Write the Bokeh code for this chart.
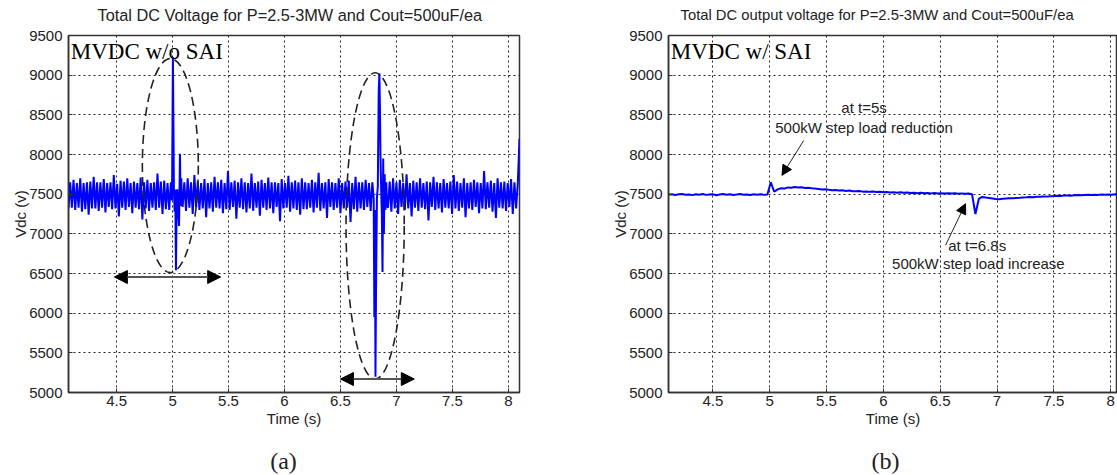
import numpy as np
from bokeh.plotting import figure
from bokeh.layouts import row, column
from bokeh.models import FixedTicker, Arrow, NormalHead, Label, Range1d
from bokeh.core.properties import value
from bokeh.embed import file_html
from bokeh.resources import INLINE

SANS = "Liberation Sans"
SERIF = "Liberation Serif"
INK = "#222222"

# ---- axes ---------------------------------------------------------------
y_ticks = [5000, 5500, 6000, 6500, 7000, 7500, 8000, 8500, 9000, 9500]
x_ticks = [4.5, 5, 5.5, 6, 6.5, 7, 7.5, 8]
x_tick_labels = ["4.5", "5", "5.5", "6", "6.5", "7", "7.5", "8"]

# ---- (a) MVDC without SAI: noisy DC bus voltage -------------------------
# steady-state ripple, sampled evenly between the given start/end times
a_pre_span = (4.07, 4.985)
vdc_a_pre = [
    7320, 7650, 7330, 7680, 7300, 7640, 7330, 7700, 7280, 7640,
    7310, 7650, 7240, 7660, 7320, 7720, 7320, 7650, 7290, 7650,
    7330, 7690, 7270, 7640, 7340, 7650, 7310, 7740, 7320, 7630,
    7220, 7670, 7330, 7660, 7300, 7700, 7340, 7640, 7260, 7660,
    7330, 7640, 7310, 7710, 7180, 7650, 7320, 7680, 7290, 7640,
    7330, 7650, 7300, 7760, 7330, 7660, 7250, 7670, 7310, 7640,
    7300, 7650,
]
# load step at t = 5 s
t_a_step1 = [4.995, 5.003, 5.007, 5.012, 5.018, 5.024, 5.030, 5.036, 5.042,
             5.050, 5.058, 5.066, 5.072, 5.078, 5.084]
vdc_a_step1 = [7420, 9230, 8500, 7560, 7280, 7560, 6540, 7300, 7560,
               7280, 7100, 8010, 7350, 7700, 7380]
a_mid_span = (5.09, 6.785)
vdc_a_mid = [
    7340, 7650, 7290, 7700, 7330, 7650, 7250, 7740, 7330, 7660,
    7300, 7640, 7320, 7690, 7210, 7640, 7320, 7650, 7280, 7720,
    7330, 7650, 7320, 7680, 7260, 7640, 7310, 7790, 7300, 7650,
    7340, 7670, 7190, 7650, 7330, 7700, 7310, 7650, 7270, 7640,
    7320, 7760, 7290, 7640, 7330, 7660, 7230, 7680, 7330, 7640,
    7300, 7710, 7320, 7650, 7260, 7650, 7340, 7640, 7160, 7690,
    7320, 7640, 7330, 7730, 7280, 7650, 7320, 7670, 7300, 7650,
    7240, 7700, 7310, 7650, 7310, 7640, 7330, 7680, 7270, 7650,
    7330, 7770, 7290, 7640, 7320, 7650, 7200, 7690, 7340, 7650,
    7300, 7640, 7330, 7700, 7260, 7640, 7320, 7660, 7330, 7670,
    7150, 7640, 7310, 7720, 7280, 7650, 7320, 7650, 7300, 7680,
    7340, 7640, 7290, 7650,
]
# load step at t = 6.8 s
t_a_step2 = [6.797, 6.803, 6.808, 6.813, 6.818, 6.826, 6.834, 6.842, 6.848, 6.853,
             6.858, 6.864, 6.870, 6.876, 6.882, 6.888, 6.895, 6.902, 6.910, 6.916]
vdc_a_step2 = [7450, 5950, 7300, 5200, 6300, 7450, 7600, 8800, 9020, 8600,
               7960, 7550, 7250, 6520, 7950, 7000, 7750, 7300, 7650, 7350]
a_post_span = (6.925, 8.1)
vdc_a_post = [
    7330, 7660, 7280, 7700, 7320, 7650, 7250, 7680, 7340, 7640,
    7300, 7750, 7320, 7640, 7220, 7670, 7330, 7650, 7290, 7700,
    7330, 7640, 7310, 7660, 7170, 7650, 7340, 7720, 7300, 7650,
    7320, 7640, 7270, 7690, 7330, 7640, 7320, 7660, 7250, 7740,
    7320, 7660, 7290, 7640, 7330, 7700, 7210, 7640, 7320, 7650,
    7300, 7680, 7340, 7650, 7260, 7640, 7320, 7790, 7310, 7650,
    7330, 7670, 7280, 7640, 7200, 7700, 7330, 7650, 7320, 7660,
    7290, 7640, 7340, 7690, 7250, 7650, 7320, 7640, 8200,
]

# ---- (b) MVDC with SAI: regulated DC output voltage ---------------------
b_span = (4.11, 8.07)
vdc_b = [
    7495, 7500, 7490, 7498, 7503, 7492, 7497, 7488, 7500, 7494,
    7502, 7491, 7496, 7499, 7487, 7495, 7501, 7493, 7498, 7490,
    7496, 7503, 7492, 7497, 7489, 7499, 7494, 7500, 7491, 7496,
    7650, 7530, 7560, 7575, 7570, 7585, 7580, 7590, 7583, 7587,
    7578, 7582, 7575, 7570, 7566, 7560, 7562, 7555, 7550, 7553,
    7546, 7549, 7541, 7545, 7538, 7536, 7540, 7532, 7535, 7529,
    7533, 7526, 7530, 7524, 7528, 7521, 7525, 7519, 7523, 7517,
    7521, 7515, 7519, 7513, 7518, 7512, 7516, 7510, 7515, 7509,
    7513, 7508, 7512, 7507, 7511, 7506, 7510, 7505, 7508, 7500,
    7250, 7440, 7465, 7458, 7452, 7446, 7440, 7437, 7441, 7444,
    7447, 7450, 7453, 7455, 7458, 7460, 7463, 7461, 7466, 7468,
    7471, 7469, 7474, 7476, 7479, 7477, 7482, 7484, 7481, 7486,
    7488, 7485, 7490, 7492, 7489, 7494, 7491, 7496, 7493, 7497,
    7494, 7498, 7495,
]

# ---- annotation anchors (data units) ------------------------------------
ell1 = dict(x=4.98, y=7860, w=0.50, h=2700)
ell2 = dict(x=6.81, y=7100, w=0.52, h=3860)
span1 = dict(x0=4.48, x1=5.43, y=6456)
span2 = dict(x0=6.50, x1=7.16, y=5170)
note1 = dict(tail=(5.30, 8178), tip=(5.108, 7737), line1=(5.83, 8590), line2=(5.83, 8345))
note2 = dict(tail=(6.547, 6855), tip=(6.723, 7380), line1=(6.826, 6855), line2=(6.836, 6625))

# ---- heading strip above and tag strip below (pixel units of each strip) --
HEAD_H, MAIN_H, TAG_H = 28, 420, 27
heading_a = "Total DC Voltage for P=2.5-3MW and Cout=500uF/ea"
heading_b = "Total DC output voltage for P=2.5-3MW and Cout=500uF/ea"


def strip(width, height, text, x, y, font, size, align):
    s = figure(width=width, height=height, output_backend="svg", toolbar_location=None,
               x_range=Range1d(0, width), y_range=Range1d(0, height),
               x_axis_location=None, y_axis_location=None,
               min_border_left=0, min_border_right=0, min_border_top=0, min_border_bottom=0)
    s.outline_line_color = None
    s.grid.visible = False
    s.text(x=[x], y=[y], text=[text], text_font=value(font),
           text_font_size=size, text_color=INK, text_align=align,
           text_baseline="middle")
    return s


def make_fig(width, left, right, xr):
    p = figure(width=width, height=MAIN_H, output_backend="svg", toolbar_location=None,
               x_range=Range1d(*xr), y_range=Range1d(5000, 9500),
               min_border_left=left, min_border_right=right,
               min_border_top=7, min_border_bottom=56)
    p.background_fill_color = "white"
    p.border_fill_color = "white"
    p.outline_line_color = "#333333"
    p.outline_line_width = 1.5

    p.xaxis.ticker = FixedTicker(ticks=x_ticks)
    p.xaxis.major_label_overrides = dict(zip(x_ticks, x_tick_labels))
    p.yaxis.ticker = FixedTicker(ticks=y_ticks)
    p.xgrid.ticker = FixedTicker(ticks=x_ticks)
    p.ygrid.ticker = FixedTicker(ticks=y_ticks)
    for g in (p.xgrid, p.ygrid):
        g.grid_line_color = INK
        g.grid_line_dash = "2 3"
        g.grid_line_width = 1
    for ax in (p.xaxis, p.yaxis):
        ax.axis_line_color = "#333333"
        ax.axis_line_width = 1.5
        ax.major_tick_in = 4
        ax.major_tick_out = 0
        ax.minor_tick_line_color = None
        ax.major_tick_line_color = "#333333"
        ax.major_label_text_font = SANS
        ax.major_label_text_font_size = "15px"
        ax.major_label_text_color = INK
        ax.axis_label_text_font = SANS
        ax.axis_label_text_font_size = "15px"
        ax.axis_label_text_font_style = "normal"
        ax.axis_label_text_color = INK
    p.xaxis.axis_label = "Time (s)"
    p.xaxis.major_label_standoff = 3
    p.xaxis.axis_label_standoff = 1
    p.yaxis.axis_label = "Vdc (v)"
    p.yaxis.major_label_standoff = 6
    p.yaxis.axis_label_standoff = -3
    return p


# ---------------- panel (a) ----------------
pa = make_fig(560, 68, 41, (4.07, 8.1))

t_a = np.concatenate([
    np.linspace(*a_pre_span, len(vdc_a_pre)), t_a_step1,
    np.linspace(*a_mid_span, len(vdc_a_mid)), t_a_step2,
    np.linspace(*a_post_span, len(vdc_a_post)),
])
v_a = np.concatenate([vdc_a_pre, vdc_a_step1, vdc_a_mid, vdc_a_step2, vdc_a_post])
pa.line(t_a, v_a, line_color="#0000ff", line_width=2)

for e in (ell1, ell2):
    pa.ellipse(x=[e["x"]], y=[e["y"]], width=[e["w"]], height=[e["h"]],
               fill_color=None, line_color=INK, line_width=1.6, line_dash="9 5")
for s in (span1, span2):
    pa.add_layout(Arrow(
        start=NormalHead(size=13, fill_color="black", line_color="black"),
        end=NormalHead(size=13, fill_color="black", line_color="black"),
        x_start=s["x0"], y_start=s["y"], x_end=s["x1"], y_end=s["y"],
        line_color="#555555", line_width=2.2))

pa.add_layout(Label(x=4.09, y=9450, text="MVDC w/o SAI", text_font=SERIF,
                    text_font_size="23px", text_color="black",
                    text_baseline="top", text_align="left"))

# ---------------- panel (b) ----------------
pb = make_fig(557, 108, 0, (4.11, 8.06))

t_b = np.linspace(*b_span, len(vdc_b))
pb.line(t_b, vdc_b, line_color="#0000ff", line_width=2)

for n in (note1, note2):
    pb.add_layout(Arrow(end=NormalHead(size=10, fill_color="black", line_color="black"),
                        x_start=n["tail"][0], y_start=n["tail"][1],
                        x_end=n["tip"][0], y_end=n["tip"][1],
                        line_color=INK, line_width=1))

for (x, y), txt in ((note1["line1"], "at t=5s"),
                    (note1["line2"], "500kW step load reduction"),
                    (note2["line1"], "at t=6.8s"),
                    (note2["line2"], "500kW step load increase")):
    pb.add_layout(Label(x=x, y=y, text=txt, text_font=SANS, text_font_size="15px",
                        text_color=INK, text_align="center", text_baseline="middle"))

pb.add_layout(Label(x=4.13, y=9450, text="MVDC w/ SAI", text_font=SERIF,
                    text_font_size="23px", text_color="black",
                    text_baseline="top", text_align="left"))

# ---------------- assemble ----------------
head_a = strip(560, HEAD_H, heading_a, 97, 14, SANS, "16.3px", "left")
head_b = strip(557, HEAD_H, heading_b, 120, 14, SANS, "14.8px", "left")
tag_a = strip(560, TAG_H, "(a)", 283, 15, SERIF, "24px", "center")
tag_b = strip(557, TAG_H, "(b)", 325, 15, SERIF, "24px", "center")

layout = column(row(head_a, head_b, spacing=0),
                row(pa, pb, spacing=0),
                row(tag_a, tag_b, spacing=0), spacing=0)
open("out.html", "w").write(file_html(layout, INLINE))
